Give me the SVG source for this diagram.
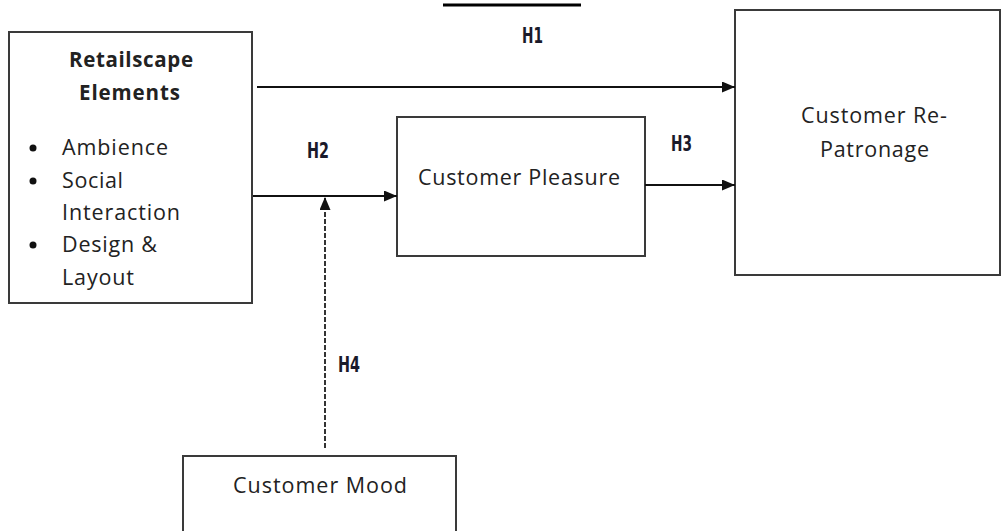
<svg xmlns="http://www.w3.org/2000/svg" width="1003" height="531" viewBox="0 0 1003 531">
<style>
.box{fill:#fff;stroke:#3a3a3a;stroke-width:2}
.t{font-family:"Open Sans","Liberation Sans",sans-serif;font-size:21.5px;fill:#222}
.b{font-weight:bold;font-size:20.5px}
.h{font-family:"DejaVu Sans","Liberation Sans",sans-serif;font-weight:bold;font-size:22px;fill:#1a1a2a}
.c{stroke:#111;stroke-width:2;fill:none}
.d{stroke:#333;stroke-width:2;fill:none;stroke-dasharray:5 2}
</style>
<defs>
<marker id="ar" viewBox="0 0 13 11" refX="13" refY="5.5" markerWidth="13" markerHeight="11" markerUnits="userSpaceOnUse" orient="auto">
<path d="M0,0 L13,5.5 L0,11 z" fill="#111"/>
</marker>
</defs>
<rect width="1003" height="531" fill="#fff"/>
<line x1="443" y1="5" x2="581" y2="5" stroke="#000" stroke-width="3"/>
<g id="retailscape">
<rect class="box" x="9" y="32" width="243" height="271"/>
<text class="t b" x="69" y="67" textLength="124">Retailscape</text>
<text class="t b" x="79" y="100" textLength="101">Elements</text>
<circle cx="33" cy="148" r="3.5" fill="#111"/>
<circle cx="33" cy="181" r="3.5" fill="#111"/>
<circle cx="33" cy="245" r="3.5" fill="#111"/>
<text class="t" x="62" y="155" textLength="106">Ambience</text>
<text class="t" x="62" y="188" textLength="61">Social</text>
<text class="t" x="62" y="220" textLength="118">Interaction</text>
<text class="t" x="62" y="252" textLength="95">Design &amp;</text>
<text class="t" x="62" y="285" textLength="72">Layout</text>
</g>
<g id="pleasure">
<rect class="box" x="397" y="117" width="248" height="139"/>
<text class="t" x="418" y="185" textLength="202">Customer Pleasure</text>
</g>
<g id="repatronage">
<rect class="box" x="735" y="10" width="265" height="265"/>
<text class="t" x="801" y="123" textLength="146">Customer Re-</text>
<text class="t" x="820" y="157" textLength="109">Patronage</text>
</g>
<g id="mood">
<rect class="box" x="183" y="456" width="273" height="90"/>
<text class="t" x="233" y="493" textLength="174">Customer Mood</text>
</g>
<g id="connectors">
<line class="c" x1="257" y1="87" x2="735" y2="87" marker-end="url(#ar)"/>
<line class="c" x1="253" y1="196" x2="397" y2="196" marker-end="url(#ar)"/>
<line class="c" x1="645" y1="185" x2="735" y2="185" marker-end="url(#ar)"/>
<line class="d" x1="325" y1="448" x2="325" y2="197" marker-end="url(#ar)"/>
<text class="h" x="522" y="43" textLength="21" lengthAdjust="spacingAndGlyphs">H1</text>
<text class="h" x="307" y="158" textLength="22" lengthAdjust="spacingAndGlyphs">H2</text>
<text class="h" x="671" y="151" textLength="21" lengthAdjust="spacingAndGlyphs">H3</text>
<text class="h" x="338" y="372" textLength="22" lengthAdjust="spacingAndGlyphs">H4</text>
</g>
</svg>
